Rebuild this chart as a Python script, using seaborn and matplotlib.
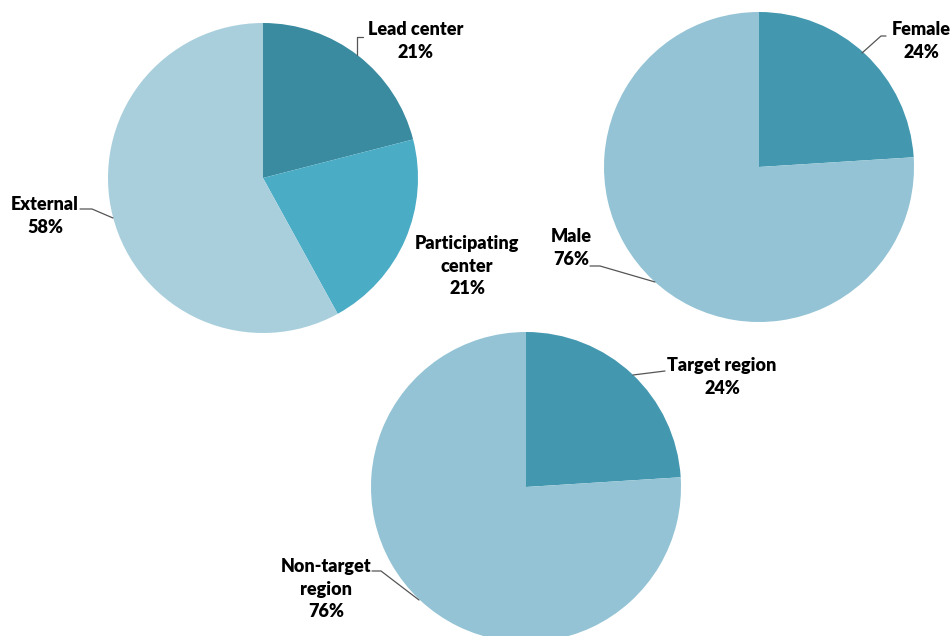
import matplotlib
matplotlib.use("Agg")
import matplotlib.pyplot as plt
from matplotlib.lines import Line2D
import seaborn as sns

sns.set_theme(style="white")
plt.rcParams['font.family'] = ['Lato', 'DejaVu Sans']

# ---- data ----
center_labels = ["Lead center", "Participating center", "External"]
center_values = [21, 21, 58]
sex_labels = ["Female", "Male"]
sex_values = [24, 76]
region_labels = ["Target region", "Non-target region"]
region_values = [24, 76]

center_colors = ["#3A8BA0", "#4AACC5", "#A9CFDD"]
sex_colors = ["#4398B0", "#93C3D4"]
region_colors = ["#4398B0", "#93C3D4"]

W, H = 952, 636
fig = plt.figure(figsize=(W / 100, H / 100), dpi=100)
R = 155


def add_pie(cx, cy, values, colors):
    ax = fig.add_axes([(cx - R) / W, (H - cy - R) / H, 2 * R / W, 2 * R / H])
    ax.pie(values, colors=colors, startangle=90, counterclock=False, radius=1,
           wedgeprops=dict(linewidth=0))
    ax.set_xlim(-1, 1)
    ax.set_ylim(-1, 1)
    ax.set_aspect('equal')
    ax.axis('off')
    return ax


def ftxt(px, py, s):
    fig.text(px / W, 1 - py / H, s, ha='center', va='center', fontsize=13,
             fontweight='heavy', color='#000000', linespacing=1.4)


def fline(xs, ys):
    fig.add_artist(Line2D([x / W for x in xs], [1 - y / H for y in ys],
                          color='#555555', linewidth=0.9))


add_pie(263, 178, center_values, center_colors)
add_pie(759, 167, sex_values, sex_colors)
add_pie(526, 487, region_values, region_colors)

# Pie 1 labels
ftxt(416, 41, f"{center_labels[0]}\n{center_values[0]}%")
fline([357, 357, 363], [55, 37, 37])
ftxt(467, 266, "Participating\ncenter\n" + f"{center_values[1]}%")
ftxt(45, 216, f"{center_labels[2]}\n{center_values[2]}%")
fline([80, 92, 113], [209, 209, 218])

# Pie 2 labels
ftxt(921, 41, f"{sex_labels[0]}\n{sex_values[0]}%")
fline([862, 881, 886], [53, 36, 36])
ftxt(571, 248, f"{sex_labels[1]}\n{sex_values[1]}%")
fline([590, 600, 655], [266, 266, 282])

# Pie 3 labels
ftxt(722, 377, f"{region_labels[0]}\n{region_values[0]}%")
fline([633, 665], [375, 371])
ftxt(326, 589, "Non-target\nregion\n" + f"{region_values[1]}%")
fline([372, 381, 419], [571, 571, 600])

fig.savefig("out.png", dpi=100)
